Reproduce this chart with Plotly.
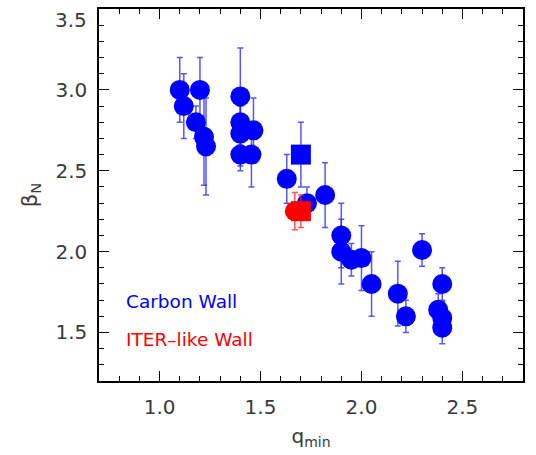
import plotly.graph_objects as go

# Carbon wall (circles)
cw_q = [1.10, 1.12, 1.20, 1.18, 1.22, 1.23, 1.40, 1.40, 1.40, 1.40, 1.455, 1.465,
        1.63, 1.73, 1.82, 1.90, 1.90, 1.95, 2.00, 2.05, 2.18, 2.22, 2.30, 2.40,
        2.38, 2.40, 2.40]
cw_b = [3.00, 2.90, 3.00, 2.80, 2.71, 2.65, 2.96, 2.80, 2.73, 2.60, 2.60, 2.75,
        2.45, 2.30, 2.35, 2.10, 2.00, 1.95, 1.96, 1.80, 1.74, 1.60, 2.01, 1.80,
        1.64, 1.59, 1.53]
cw_err = [0.20, 0.20, 0.20, 0.10, 0.30, 0.30, 0.30, 0.10, 0.20, 0.10, 0.20, 0.20,
          0.15, 0.10, 0.20, 0.20, 0.20, 0.10, 0.20, 0.20, 0.20, 0.10, 0.10, 0.10,
          0.10, 0.10, 0.10]

# Carbon wall (square)
cws_q = [1.70]
cws_b = [2.60]
cws_err = [0.20]

# ITER-like wall
ilw_c_q = [1.67]
ilw_c_b = [2.25]
ilw_c_err = [0.115]
ilw_s_q = [1.70]
ilw_s_b = [2.25]
ilw_s_err = [0.10]

x_ticks = [1.0, 1.5, 2.0, 2.5]
y_ticks = [1.5, 2.0, 2.5, 3.0, 3.5]

BLUE = "#0000ff"
RED = "#ff0000"
BLUE_ERR = "rgba(30,30,255,0.75)"
RED_ERR = "rgba(255,30,30,0.75)"
TXT = "#3a3a3a"

fig = go.Figure()

def add(q, b, err, color, ecolor, symbol):
    fig.add_trace(go.Scatter(
        x=q, y=b, mode="markers",
        marker=dict(symbol=symbol, size=20, color=color, line=dict(width=0)),
        error_y=dict(type="data", array=err, visible=True, color=ecolor,
                     thickness=1.5, width=3),
        showlegend=False, hoverinfo="skip"))

add(cw_q, cw_b, cw_err, BLUE, BLUE_ERR, "circle")
add(cws_q, cws_b, cws_err, BLUE, BLUE_ERR, "square")
add(ilw_c_q, ilw_c_b, ilw_c_err, RED, RED_ERR, "circle")
add(ilw_s_q, ilw_s_b, ilw_s_err, RED, RED_ERR, "square")

FONT = "DejaVu Sans"
tick_font = dict(family=FONT, size=20, color=TXT)

axis_common = dict(
    showgrid=False, zeroline=False, showline=True, linecolor="black", linewidth=1.5,
    mirror="allticks", ticks="inside", ticklen=10, tickwidth=1.2, tickcolor="black",
    tickfont=tick_font, ticklabeloverflow="allow", automargin=False,
    minor=dict(ticks="inside", ticklen=5, tickwidth=1.2, tickcolor="black", dtick=0.1),
)

fig.update_xaxes(range=[0.7, 2.8], tickvals=x_ticks,
                 ticktext=[f"{v:.1f}" for v in x_ticks],
                 ticklabelstandoff=7,
                 title=dict(text="q<sub>min</sub>", font=dict(family=FONT, size=20, color=TXT),
                            standoff=11),
                 **axis_common)

# top label (3.5) sits just below the frame edge, drawn as annotation
y_text = [f"{v:.1f}" for v in y_ticks[:-1]] + [""]
fig.update_yaxes(range=[1.2, 3.5005], tickvals=y_ticks,
                 ticktext=y_text,
                 ticklabelstandoff=6,
                 title=dict(text="β<sub>N</sub>", font=dict(family=FONT, size=21, color=TXT),
                            standoff=12),
                 **axis_common)
fig.add_annotation(x=0, y=1, xref="paper", yref="paper", text=f"{y_ticks[-1]:.1f}",
                   showarrow=False, xanchor="right", yanchor="top",
                   xshift=-10, yshift=3, font=tick_font)

fig.add_annotation(x=0.825, y=1.69, xref="x", yref="y", text="Carbon Wall",
                   showarrow=False, xanchor="left", yanchor="middle",
                   font=dict(family=FONT, size=18.5, color=BLUE))
fig.add_annotation(x=0.825, y=1.455, xref="x", yref="y", text="ITER–like Wall",
                   showarrow=False, xanchor="left", yanchor="middle",
                   font=dict(family=FONT, size=18.5, color=RED))

fig.update_layout(width=536, height=455,
                  margin=dict(l=99, r=13, t=9, b=74),
                  paper_bgcolor="white", plot_bgcolor="white")

fig.write_html("out.html")
